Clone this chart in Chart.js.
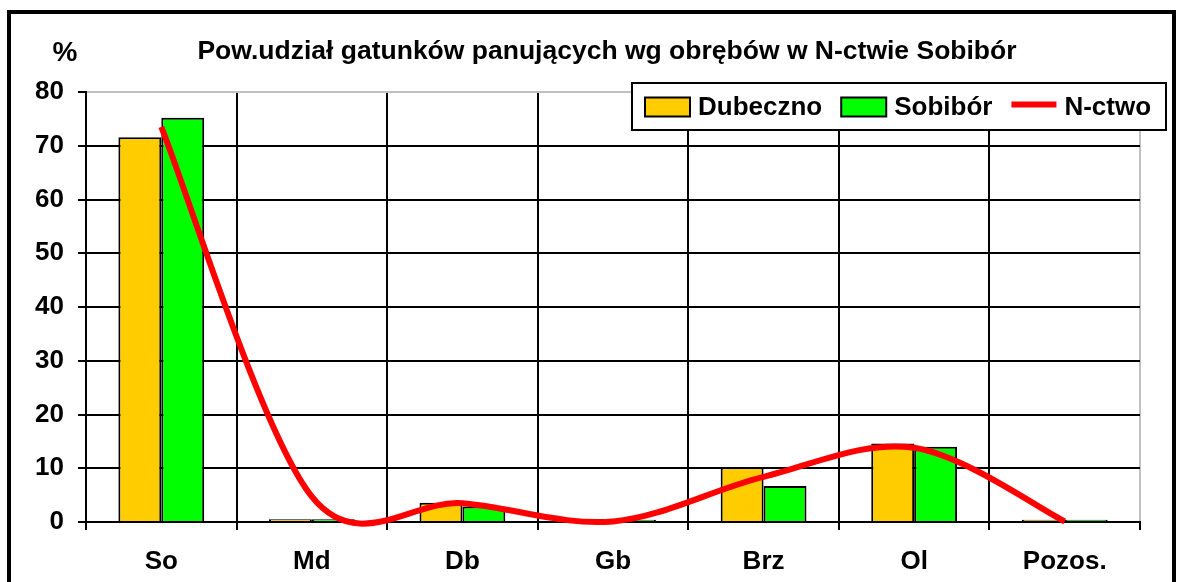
<!DOCTYPE html>
<html>
<head>
<meta charset="utf-8">
<script src="https://cdn.jsdelivr.net/npm/chart.js@4.4.0/dist/chart.umd.min.js"></script>
<style>
  body { margin: 0; background: #fff; }
</style>
</head>
<body>
<canvas id="myChart" width="1182" height="582"></canvas>
<script>
const categories = ['So', 'Md', 'Db', 'Gb', 'Brz', 'Ol', 'Pozos.'];
const dubeczno = [71.6, 0.5, 3.6, 0.3, 10.2, 14.6, 0.4];
const sobibor = [75.2, 0.5, 2.9, 0.4, 6.7, 14.0, 0.4];
const nctwo = [73.5, 4.7, 3.5, 0.1, 8.4, 13.8, 0.1];
const yMin = 0, yMax = 80, yStep = 10;

const FONT = "'Liberation Sans', Arial, sans-serif";

// spreadsheet-style smoothing: arms of (P2 - P0) / 6, shortened to at most
// half of the segment when the neighbours are far away
const smoothLine = {
    id: 'smoothLine',
    beforeDatasetDraw(chart, args) {
        const meta = args.meta;
        if (meta.type !== 'line') return;
        meta.dataset.updateControlPoints(chart.chartArea);
        const pts = meta.data;
        const n = pts.length;
        const dist = (a, b) => Math.hypot(b.x - a.x, b.y - a.y);
        for (let i = 0; i < n - 1; i++) {
            const p0 = pts[Math.max(i - 1, 0)];
            const p1 = pts[i];
            const p2 = pts[i + 1];
            const p3 = pts[Math.min(i + 2, n - 1)];
            const d12 = dist(p1, p2);
            const d02 = dist(p0, p2);
            const d13 = dist(p1, p3);
            let f = 1 / 6, g = 1 / 6;
            if (d02 / 6 >= d12 / 2 && d02 > 0) f = d12 / (2 * d02);
            if (d13 / 6 >= d12 / 2 && d13 > 0) g = d12 / (2 * d13);
            p1.cp2x = p1.x + f * (p2.x - p0.x);
            p1.cp2y = p1.y + f * (p2.y - p0.y);
            p2.cp1x = p2.x - g * (p3.x - p1.x);
            p2.cp1y = p2.y - g * (p3.y - p1.y);
        }
    }
};

// title, % label, legend box and outer frame
const decor = {
    id: 'decor',
    afterDraw(chart) {
        const ctx = chart.ctx;
        ctx.save();
        ctx.fillStyle = '#000';
        ctx.textBaseline = 'middle';

        ctx.font = 'bold 26.5px ' + FONT;
        ctx.textAlign = 'center';
        ctx.fillText('Pow.udział gatunków panujących wg obrębów w N-ctwie Sobibór', 607, 52);

        ctx.font = 'bold 28px ' + FONT;
        ctx.fillText('%', 65, 53);

        // legend
        const bx = 632, by = 83, bw = 534, bh = 47;
        ctx.fillStyle = '#fff';
        ctx.fillRect(bx, by, bw, bh);
        ctx.strokeStyle = '#000';
        ctx.lineWidth = 2;
        ctx.strokeRect(bx, by, bw, bh);

        ctx.font = 'bold 26px ' + FONT;
        ctx.textAlign = 'left';
        let x = bx + 13;
        const cy = by + bh / 2;
        chart.data.datasets.forEach(ds => {
            if (ds.type === 'line') {
                ctx.strokeStyle = ds.borderColor;
                ctx.lineWidth = 6;
                ctx.beginPath();
                ctx.moveTo(x, cy - 2);
                ctx.lineTo(x + 45, cy - 2);
                ctx.stroke();
            } else {
                ctx.fillStyle = ds.backgroundColor;
                ctx.fillRect(x, cy - 9, 45, 19);
                ctx.strokeStyle = '#000';
                ctx.lineWidth = 2;
                ctx.strokeRect(x, cy - 9, 45, 19);
            }
            x += 53;
            ctx.fillStyle = '#000';
            ctx.fillText(ds.label, x, cy + 1);
            x += ctx.measureText(ds.label).width + 19;
        });

        // outer frame
        ctx.strokeStyle = '#000';
        ctx.lineWidth = 4;
        ctx.strokeRect(9, 12, 1165, 600);
        ctx.restore();
    }
};

const data = {
    labels: categories,
    datasets: [{
        type: 'bar',
        label: 'Dubeczno',
        data: dubeczno,
        backgroundColor: '#ffcc00',
        borderColor: '#000',
        borderWidth: 2,
        order: 1
    }, {
        type: 'bar',
        label: 'Sobibór',
        data: sobibor,
        backgroundColor: '#00ff00',
        borderColor: '#000',
        borderWidth: 2,
        order: 1
    }, {
        type: 'line',
        label: 'N-ctwo',
        data: nctwo,
        borderColor: '#ff0000',
        borderWidth: 6,
        pointRadius: 0,
        tension: 0.4,
        fill: false,
        clip: 6,
        order: 0
    }]
};

const config = {
    type: 'bar',
    data: data,
    options: {
        responsive: false,
        animation: false,
        layout: { padding: { top: 92, right: 42, bottom: 0, left: 0 } },
        datasets: {
            bar: { categoryPercentage: 0.57, barPercentage: 1.0 }
        },
        plugins: {
            legend: { display: false },
            title: { display: false },
            tooltip: { enabled: false }
        },
        scales: {
            x: {
                afterFit(scale) { scale.height = 60; },
                grid: {
                    offset: true,
                    lineWidth: 2,
                    color: ctx => ctx.type === 'tick' ? '#000' : '#c0c0c0',
                    tickColor: '#000',
                    tickLength: 8
                },
                border: { color: '#000', width: 2 },
                ticks: {
                    color: '#000',
                    padding: 16,
                    font: { family: FONT, size: 26, weight: 'bold' }
                }
            },
            y: {
                min: yMin,
                max: yMax,
                afterFit(scale) { scale.width = 86; },
                grid: {
                    lineWidth: 2,
                    color: ctx => ctx.tick && ctx.tick.value === yMax ? '#c0c0c0' : '#000',
                    tickColor: '#000',
                    tickLength: 8
                },
                border: { color: '#000', width: 2 },
                ticks: {
                    stepSize: yStep,
                    color: '#000',
                    padding: 14,
                    font: { family: FONT, size: 26, weight: 'bold' }
                }
            }
        }
    },
    plugins: [smoothLine, decor]
};

new Chart(document.getElementById('myChart'), config);
</script>
</body>
</html>
